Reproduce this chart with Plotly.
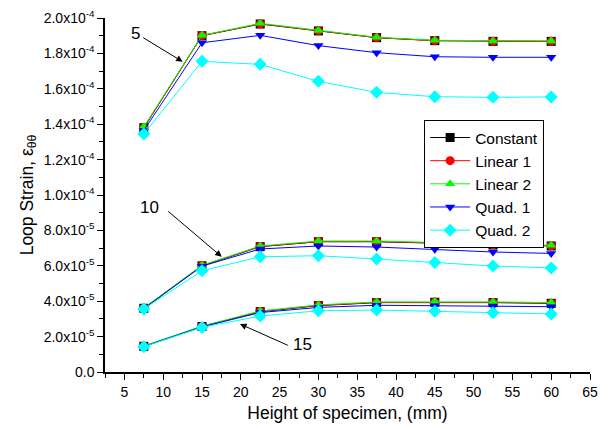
import plotly.graph_objects as go

heights = [7.5, 15, 22.5, 30, 37.5, 45, 52.5, 60]

# group "5"
constant_5 = [1.380e-4, 1.900e-4, 1.966e-4, 1.927e-4, 1.889e-4, 1.872e-4, 1.868e-4, 1.868e-4]
linear1_5 = [1.380e-4, 1.901e-4, 1.967e-4, 1.928e-4, 1.889e-4, 1.872e-4, 1.868e-4, 1.868e-4]
linear2_5 = [1.385e-4, 1.902e-4, 1.970e-4, 1.930e-4, 1.891e-4, 1.874e-4, 1.870e-4, 1.870e-4]
quad1_5 = [1.365e-4, 1.860e-4, 1.902e-4, 1.844e-4, 1.804e-4, 1.781e-4, 1.778e-4, 1.778e-4]
quad2_5 = [1.345e-4, 1.755e-4, 1.738e-4, 1.642e-4, 1.580e-4, 1.555e-4, 1.552e-4, 1.554e-4]

# group "10"
constant_10 = [3.60e-5, 6.00e-5, 7.08e-5, 7.36e-5, 7.36e-5, 7.27e-5, 7.18e-5, 7.12e-5]
linear1_10 = [3.60e-5, 6.01e-5, 7.09e-5, 7.37e-5, 7.37e-5, 7.28e-5, 7.19e-5, 7.13e-5]
linear2_10 = [3.62e-5, 6.03e-5, 7.12e-5, 7.40e-5, 7.40e-5, 7.31e-5, 7.22e-5, 7.16e-5]
quad1_10 = [3.58e-5, 5.98e-5, 6.95e-5, 7.12e-5, 7.06e-5, 6.93e-5, 6.78e-5, 6.70e-5]
quad2_10 = [3.56e-5, 5.72e-5, 6.51e-5, 6.57e-5, 6.38e-5, 6.18e-5, 5.99e-5, 5.88e-5]

# group "15"
constant_15 = [1.45e-5, 2.57e-5, 3.41e-5, 3.75e-5, 3.92e-5, 3.94e-5, 3.92e-5, 3.88e-5]
linear1_15 = [1.45e-5, 2.57e-5, 3.42e-5, 3.76e-5, 3.93e-5, 3.95e-5, 3.93e-5, 3.89e-5]
linear2_15 = [1.47e-5, 2.59e-5, 3.45e-5, 3.79e-5, 3.96e-5, 3.98e-5, 3.96e-5, 3.92e-5]
quad1_15 = [1.44e-5, 2.55e-5, 3.36e-5, 3.65e-5, 3.77e-5, 3.75e-5, 3.73e-5, 3.69e-5]
quad2_15 = [1.43e-5, 2.52e-5, 3.16e-5, 3.46e-5, 3.50e-5, 3.43e-5, 3.35e-5, 3.28e-5]

series_names = ["Constant", "Linear 1", "Linear 2", "Quad. 1", "Quad. 2"]
series_colors = ["#000000", "#ff0000", "#00ff00", "#0000ff", "#00ffff"]
series_symbols = ["square", "circle", "triangle-up", "triangle-down", "diamond"]
series_groups = [
    [constant_5, constant_10, constant_15],
    [linear1_5, linear1_10, linear1_15],
    [linear2_5, linear2_10, linear2_15],
    [quad1_5, quad1_10, quad1_15],
    [quad2_5, quad2_10, quad2_15],
]

y_tickvals = [0, 2e-5, 4e-5, 6e-5, 8e-5, 1e-4, 1.2e-4, 1.4e-4, 1.6e-4, 1.8e-4, 2e-4]
y_ticktext = ["0.0", "2.0x10<sup>-5</sup>", "4.0x10<sup>-5</sup>", "6.0x10<sup>-5</sup>",
              "8.0x10<sup>-5</sup>", "1.0x10<sup>-4</sup>", "1.2x10<sup>-4</sup>",
              "1.4x10<sup>-4</sup>", "1.6x10<sup>-4</sup>", "1.8x10<sup>-4</sup>",
              "2.0x10<sup>-4</sup>"]

fig = go.Figure()
for name, color, sym, groups in zip(series_names, series_colors, series_symbols, series_groups):
    for gi, vals in enumerate(groups):
        fig.add_trace(go.Scatter(
            x=heights, y=vals, mode="lines+markers", name=name,
            showlegend=(gi == 0),
            line=dict(color=color, width=1),
            marker=dict(symbol=sym, color=color, size=9 if sym != "diamond" else 10),
        ))

arrow_color = "#000000"
font = "Liberation Sans, Arial, sans-serif"
annots = [
    # (text, text_x, text_y, tail_x, tail_y, head_x, head_y)
    ("5", 6.4, 1.912e-4, 7.23, 1.894e-4, 12.51, 1.753e-4),
    ("10", 8.2, 9.30e-5, 10.45, 9.15e-5, 17.54, 6.51e-5),
    ("15", 27.9, 1.56e-5, 26.25, 1.47e-5, 19.9, 2.71e-5),
]
for txt, tx, ty, ax, ay, hx, hy in annots:
    fig.add_annotation(x=hx, y=hy, ax=ax, ay=ay, axref="x", ayref="y", xref="x", yref="y",
                       text="", showarrow=True, arrowhead=2, arrowsize=1.3, arrowwidth=1,
                       arrowcolor=arrow_color)
    fig.add_annotation(x=tx, y=ty, xref="x", yref="y", text=txt, showarrow=False,
                       font=dict(size=17, color="black", family=font))

# page body has an 8px default margin, so the figure is 8px smaller than the window
fig.update_layout(
    width=600, height=421,
    margin=dict(l=97, r=18, t=10, b=57, autoexpand=False),
    paper_bgcolor="white", plot_bgcolor="white",
    font=dict(family=font, size=14, color="black"),
    legend=dict(x=0.658, y=0.712, xanchor="left", yanchor="top",
                bordercolor="black", borderwidth=1, bgcolor="white",
                font=dict(size=15.5), itemwidth=40, tracegroupgap=0),
    xaxis=dict(range=[2.5, 65], tickvals=list(range(5, 70, 5)), showgrid=False, zeroline=False,
               showline=True, linecolor="black", linewidth=1.5, ticks="outside", ticklen=6,
               automargin=False,
               tickcolor="black", minor=dict(ticks="outside", ticklen=4, dtick=2.5, tick0=2.5, tickcolor="black"),
               title=dict(text="Height of specimen, (mm)", font=dict(size=17.5), standoff=8),
               tickfont=dict(size=14)),
    yaxis=dict(range=[0, 2e-4], tickvals=y_tickvals, ticktext=y_ticktext, showgrid=False, zeroline=False,
               showline=True, linecolor="black", linewidth=1.5, ticks="outside", ticklen=6,
               automargin=False,
               tickcolor="black", minor=dict(ticks="outside", ticklen=4, dtick=1e-5, tick0=0, tickcolor="black"),
               title=dict(text="Loop Strain, ε<sub>θθ</sub>", font=dict(size=17.5), standoff=6),
               tickfont=dict(size=14)),
)

fig.write_html("out.html")
